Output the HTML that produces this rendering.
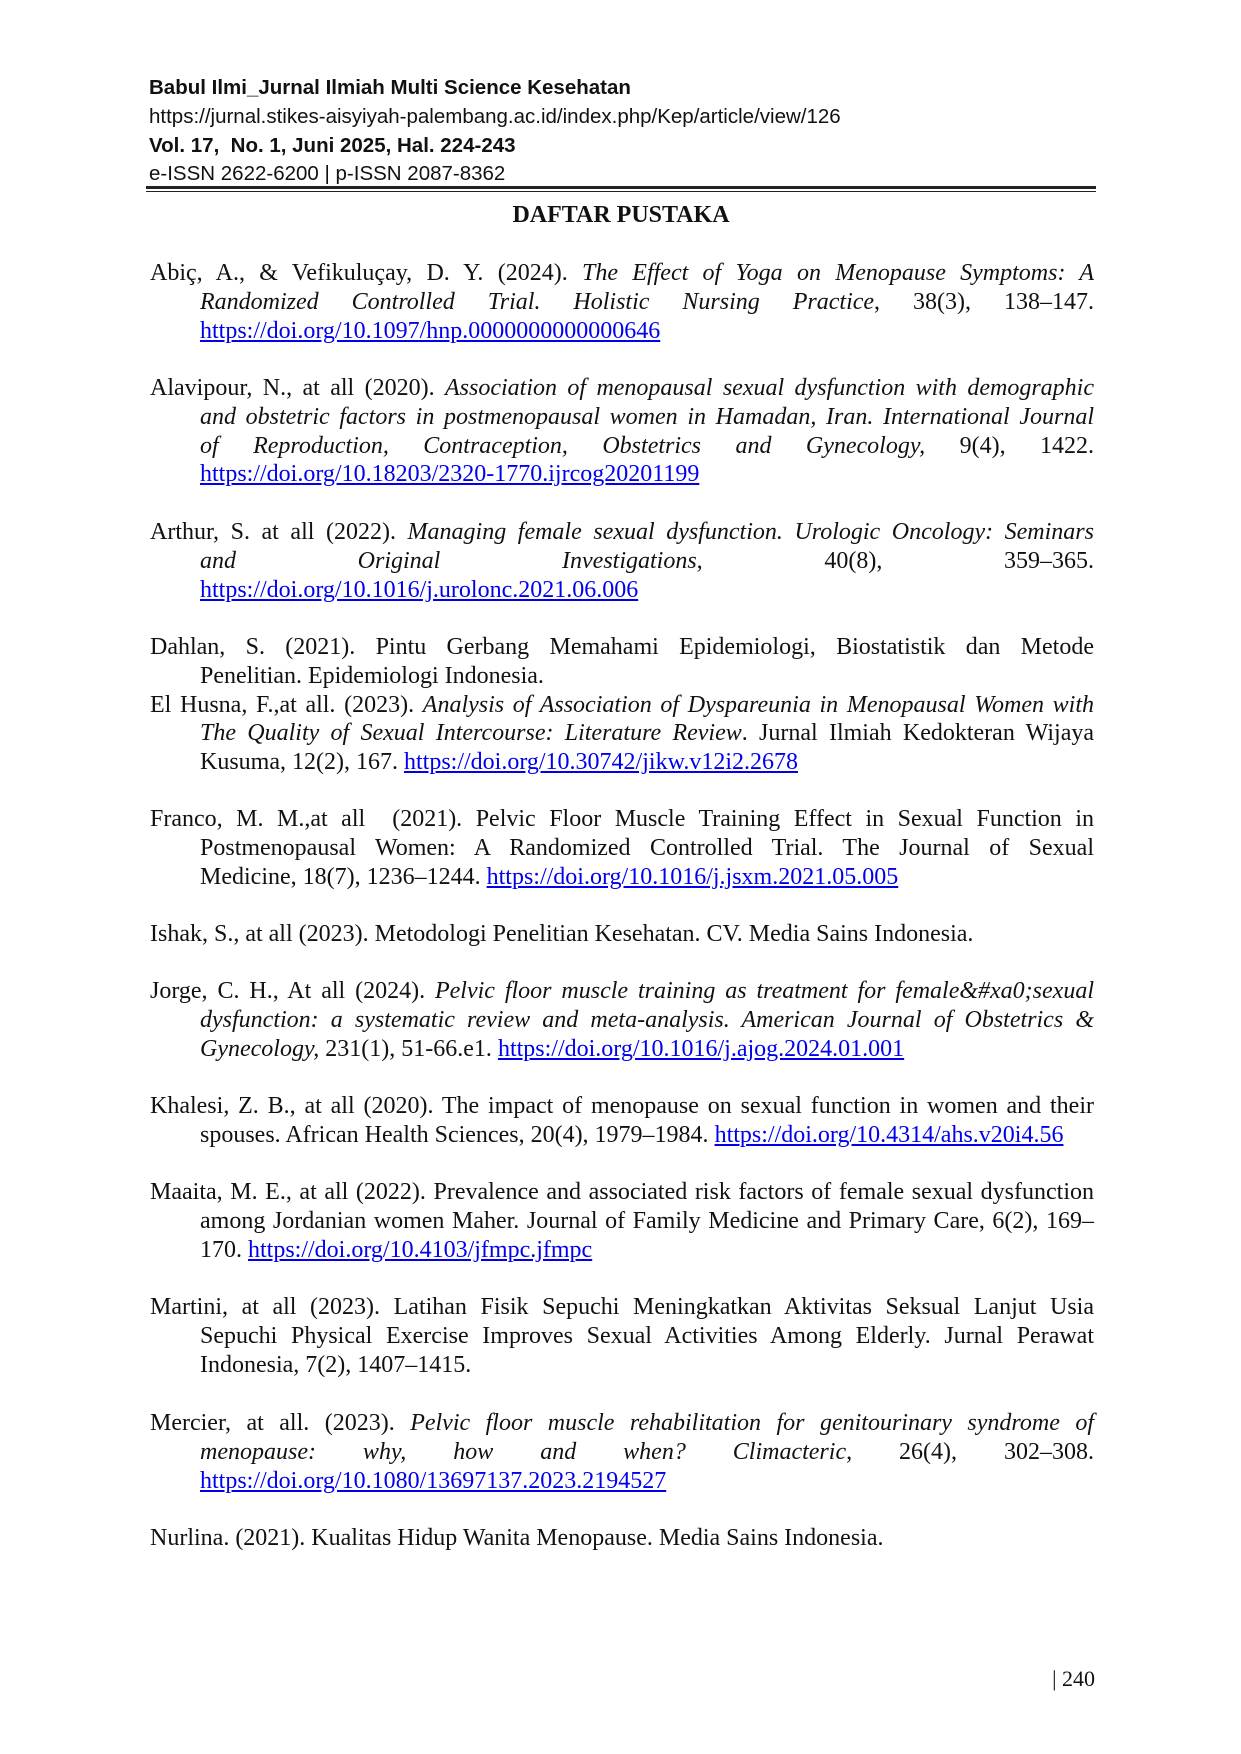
<!DOCTYPE html>
<html><head><meta charset="utf-8">
<style>
html,body{margin:0;padding:0;background:#fff;}
body{width:1241px;height:1754px;position:relative;overflow:hidden;font-family:"Liberation Serif",serif;color:#111;}
.h{position:absolute;left:149px;font-family:"Liberation Sans",sans-serif;font-size:20.5px;line-height:24px;white-space:nowrap;}
.b{font-weight:bold;}
.rule1{position:absolute;left:146px;width:950px;top:186px;height:3px;background:#222;}
.rule2{position:absolute;left:146px;width:950px;top:191px;height:1px;background:#222;}
.title{position:absolute;left:0;width:1242px;text-align:center;top:201px;font-weight:bold;font-size:24px;line-height:28px;}
.e{position:absolute;left:150px;width:944px;font-size:24px;line-height:28.8px;}
.l{text-align:justify;text-align-last:justify;height:28.8px;}
.l.f{text-align-last:left;}
.l.i{margin-left:50px;}
i{font-style:italic;}
a{color:#0000ee;text-decoration:underline;}
.pg{position:absolute;right:146px;top:1665px;font-size:22px;line-height:28px;}
</style></head><body>
<div class="h b" style="top:76px">Babul Ilmi_Jurnal Ilmiah Multi Science Kesehatan</div>
<div class="h" style="top:105px">https://jurnal.stikes-aisyiyah-palembang.ac.id/index.php/Kep/article/view/126</div>
<div class="h b" style="top:134px">Vol. 17,&nbsp; No. 1, Juni 2025, Hal. 224-243</div>
<div class="h" style="top:162px">e-ISSN 2622-6200 | p-ISSN 2087-8362</div>
<div class="rule1"></div><div class="rule2"></div>
<div class="title">DAFTAR PUSTAKA</div>

<div class="e" style="top:259px">
<div class="l">Abiç, A., &amp; Vefikuluçay, D. Y. (2024). <i>The Effect of Yoga on Menopause Symptoms: A</i></div>
<div class="l i"><i>Randomized Controlled Trial. Holistic Nursing Practice</i>, 38(3), 138–147.</div>
<div class="l i f"><a>https://doi.org/10.1097/hnp.0000000000000646</a></div>
</div>

<div class="e" style="top:374px">
<div class="l">Alavipour, N., at all (2020). <i>Association of menopausal sexual dysfunction with demographic</i></div>
<div class="l i"><i>and obstetric factors in postmenopausal women in Hamadan, Iran. International Journal</i></div>
<div class="l i"><i>of Reproduction, Contraception, Obstetrics and Gynecology,</i> 9(4), 1422.</div>
<div class="l i f"><a>https://doi.org/10.18203/2320-1770.ijrcog20201199</a></div>
</div>

<div class="e" style="top:518px">
<div class="l">Arthur, S. at all (2022). <i>Managing female sexual dysfunction. Urologic Oncology: Seminars</i></div>
<div class="l i"><i>and Original Investigations,</i> 40(8), 359–365.</div>
<div class="l i f"><a>https://doi.org/10.1016/j.urolonc.2021.06.006</a></div>
</div>

<div class="e" style="top:633px">
<div class="l">Dahlan, S. (2021). Pintu Gerbang Memahami Epidemiologi, Biostatistik dan Metode</div>
<div class="l i f">Penelitian. Epidemiologi Indonesia.</div>
<div class="l">El Husna, F.,at all. (2023). <i>Analysis of Association of Dyspareunia in Menopausal Women with</i></div>
<div class="l i"><i>The Quality of Sexual Intercourse: Literature Review</i>. Jurnal Ilmiah Kedokteran Wijaya</div>
<div class="l i f">Kusuma, 12(2), 167. <a>https://doi.org/10.30742/jikw.v12i2.2678</a></div>
</div>

<div class="e" style="top:805px">
<div class="l">Franco, M. M.,at all&nbsp; (2021). Pelvic Floor Muscle Training Effect in Sexual Function in</div>
<div class="l i">Postmenopausal Women: A Randomized Controlled Trial. The Journal of Sexual</div>
<div class="l i f">Medicine, 18(7), 1236–1244. <a>https://doi.org/10.1016/j.jsxm.2021.05.005</a></div>
</div>

<div class="e" style="top:920px">
<div class="l f">Ishak, S., at all (2023). Metodologi Penelitian Kesehatan. CV. Media Sains Indonesia.</div>
</div>

<div class="e" style="top:977px">
<div class="l">Jorge, C. H., At all (2024). <i>Pelvic floor muscle training as treatment for female&amp;#xa0;sexual</i></div>
<div class="l i"><i>dysfunction: a systematic review and meta-analysis. American Journal of Obstetrics &amp;</i></div>
<div class="l i f"><i>Gynecology,</i> 231(1), 51-66.e1. <a>https://doi.org/10.1016/j.ajog.2024.01.001</a></div>
</div>

<div class="e" style="top:1092px">
<div class="l">Khalesi, Z. B., at all (2020). The impact of menopause on sexual function in women and their</div>
<div class="l i f">spouses. African Health Sciences, 20(4), 1979–1984. <a>https://doi.org/10.4314/ahs.v20i4.56</a></div>
</div>

<div class="e" style="top:1178px">
<div class="l">Maaita, M. E., at all (2022). Prevalence and associated risk factors of female sexual dysfunction</div>
<div class="l i">among Jordanian women Maher. Journal of Family Medicine and Primary Care, 6(2), 169–</div>
<div class="l i f">170. <a>https://doi.org/10.4103/jfmpc.jfmpc</a></div>
</div>

<div class="e" style="top:1293px">
<div class="l">Martini, at all (2023). Latihan Fisik Sepuchi Meningkatkan Aktivitas Seksual Lanjut Usia</div>
<div class="l i">Sepuchi Physical Exercise Improves Sexual Activities Among Elderly. Jurnal Perawat</div>
<div class="l i f">Indonesia, 7(2), 1407–1415.</div>
</div>

<div class="e" style="top:1409px">
<div class="l">Mercier, at all. (2023). <i>Pelvic floor muscle rehabilitation for genitourinary syndrome of</i></div>
<div class="l i"><i>menopause: why, how and when? Climacteric</i>, 26(4), 302–308.</div>
<div class="l i f"><a>https://doi.org/10.1080/13697137.2023.2194527</a></div>
</div>

<div class="e" style="top:1524px">
<div class="l f">Nurlina. (2021). Kualitas Hidup Wanita Menopause. Media Sains Indonesia.</div>
</div>

<div class="pg">| 240</div>
</body></html>
